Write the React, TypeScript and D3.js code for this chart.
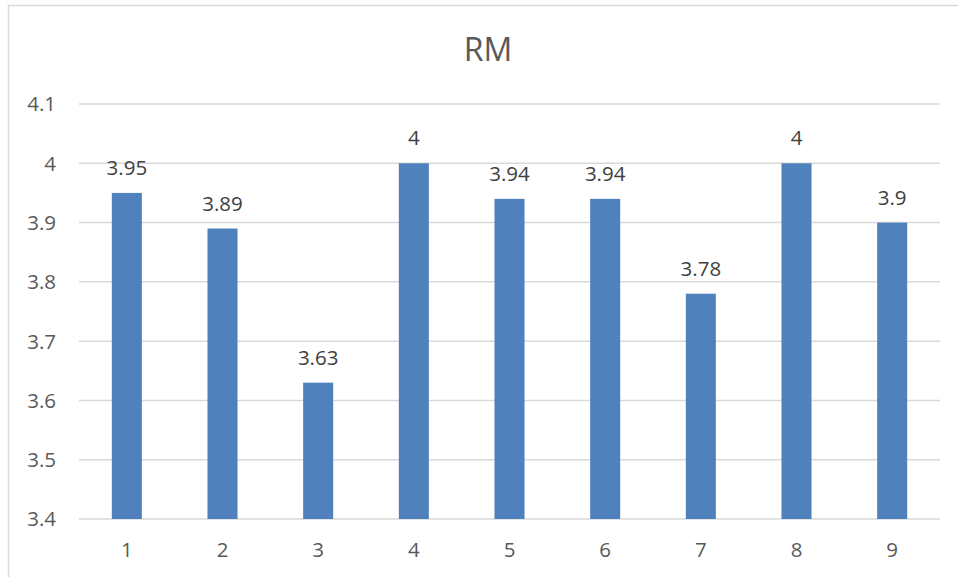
import React from "react";
import * as d3 from "d3";

const categories = ["1", "2", "3", "4", "5", "6", "7", "8", "9"];
const values = [3.95, 3.89, 3.63, 4, 3.94, 3.94, 3.78, 4, 3.9];
const yTicks = [3.4, 3.5, 3.6, 3.7, 3.8, 3.9, 4.0, 4.1];
const title = "RM";

const W = 958;
const H = 577;
const FONT = "'Open Sans', 'Noto Sans', sans-serif";
const TEXT = "#595959";

export default function App() {
  const x = d3.scaleBand<string>().domain(categories).range([79, 940]).paddingInner(0.686).paddingOuter(0.343);
  const y = d3.scaleLinear().domain([3.4, 4.1]).range([519, 104]);
  const fmt = (v: number) => String(+v.toFixed(2));

  return (
    <svg width={W} height={H} style={{ position: "absolute", left: 0, top: 0, background: "#fff" }} fontFamily={FONT}>
      <rect x={8.5} y={5.5} width={W + 10} height={H + 10} fill="#fff" stroke="#D9D9D9" strokeWidth={1.5} />
      <text x={488} y={61} textAnchor="middle" fontSize={32} fill={TEXT}>{title}</text>
      {yTicks.map((t) => (
        <g key={t}>
          <line x1={79} x2={940} y1={y(t)} y2={y(t)} stroke="#D9D9D9" strokeWidth={1.5} />
          <text x={56} y={y(t)} dy="0.36em" textAnchor="end" fontSize={20.5} fill={TEXT}>{fmt(t)}</text>
        </g>
      ))}
      {categories.map((c, i) => (
        <g key={c}>
          <rect x={x(c)} y={y(values[i])} width={x.bandwidth()} height={y(3.4) - y(values[i])} fill="#4F81BD" />
          <text x={(x(c) as number) + x.bandwidth() / 2} y={y(values[i]) - 18} textAnchor="middle" fontSize={20.5} fill="#404040">{fmt(values[i])}</text>
          <text x={(x(c) as number) + x.bandwidth() / 2} y={557} textAnchor="middle" fontSize={20.5} fill={TEXT}>{c}</text>
        </g>
      ))}
    </svg>
  );
}
